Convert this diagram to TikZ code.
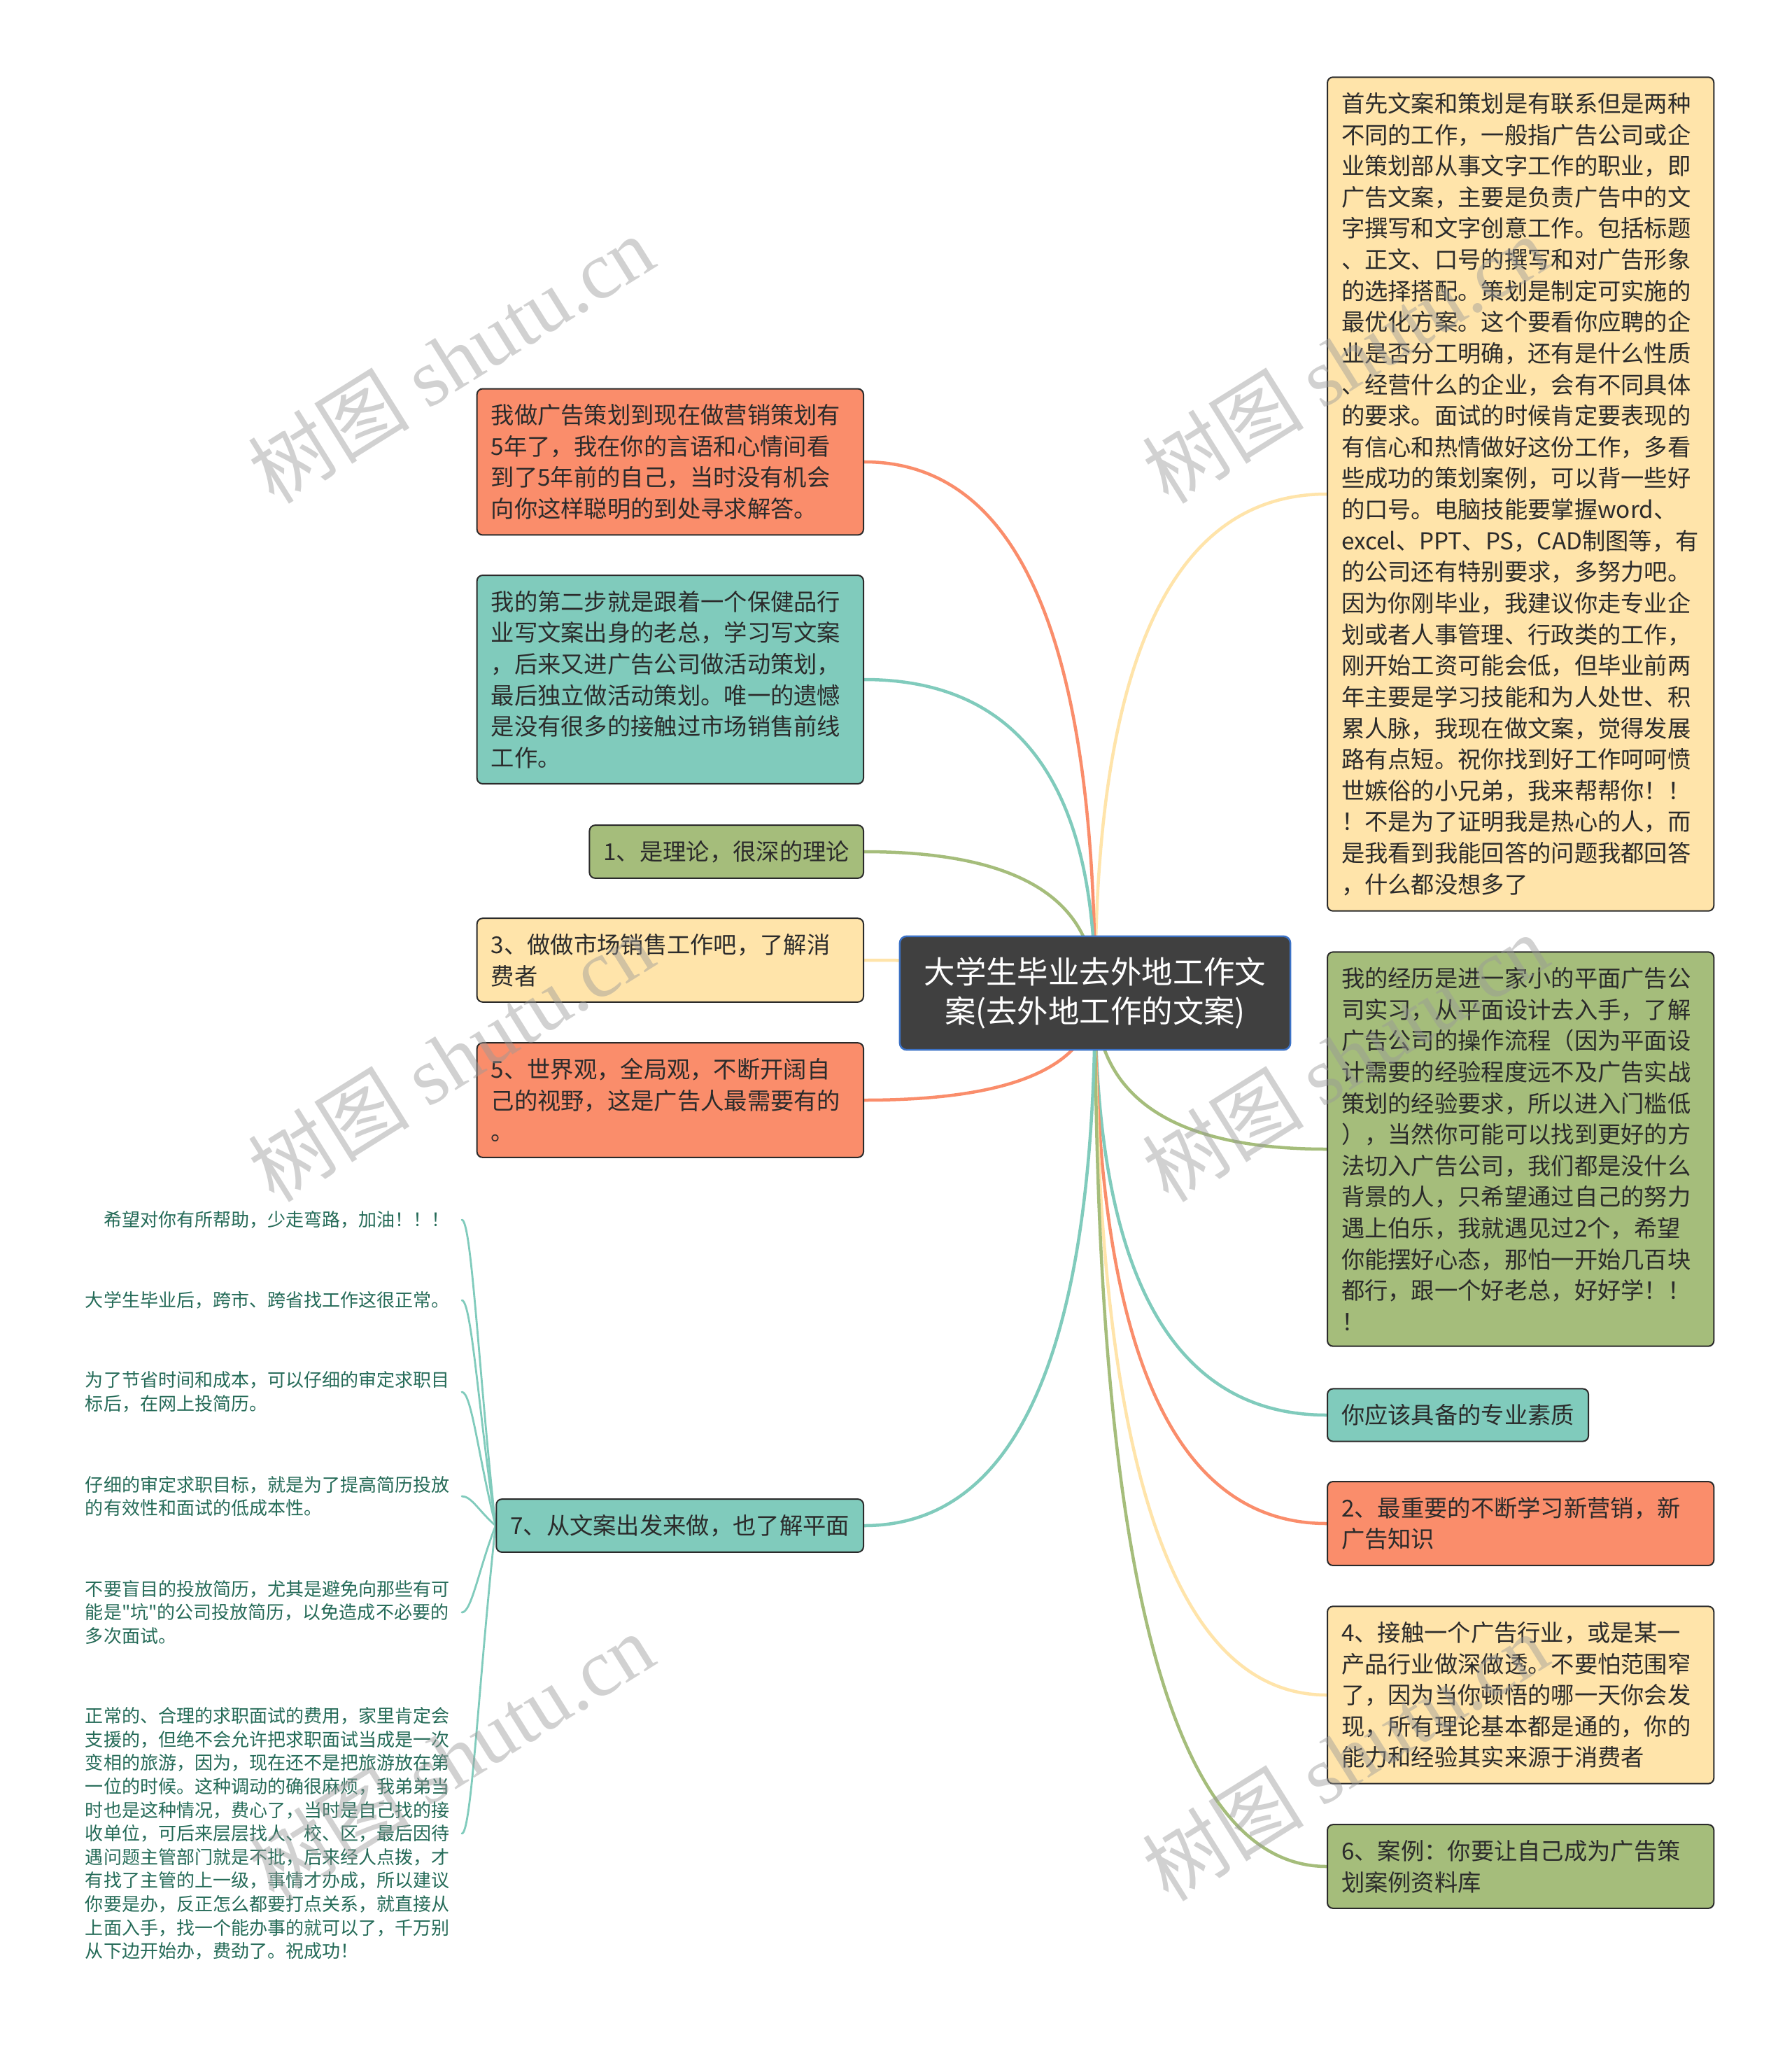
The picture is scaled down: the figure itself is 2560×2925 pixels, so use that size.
\documentclass[tikz,border=0pt]{standalone}
\usepackage{fontspec}
\setmainfont{Noto Sans CJK SC}[Ligatures=TeXOff]
\newfontfamily\wmlatin{Liberation Serif}
\usetikzlibrary{calc,backgrounds}
\definecolor{mmorange}{HTML}{FA8D6B}
\definecolor{mmteal}{HTML}{80CBBC}
\definecolor{mmgreen}{HTML}{A5BD7B}
\definecolor{mmyellow}{HTML}{FFE4AA}
\definecolor{mmroot}{HTML}{404040}
\definecolor{mmblue}{HTML}{3C72C6}
\definecolor{mmtext}{HTML}{2B2B2B}
\definecolor{mmleaf}{HTML}{256B58}
\newcommand{\boxfont}{\fontsize{9.47pt}{12.69pt}\selectfont}
\newcommand{\rootfont}{\fontsize{12.63pt}{15.93pt}\selectfont}
\newcommand{\leaffont}{\fontsize{7.4pt}{9.56pt}\selectfont}
\newcommand{\wmfont}{\fontsize{33pt}{38pt}\selectfont}

\begin{document}
\begin{tikzpicture}[
    x=0.01cm, y=-0.01cm,
    topic/.style={draw=mmtext, line width=0.02cm, rounded corners=0.08cm, fill=#1, text=mmtext, font=\boxfont, align=left, inner xsep=0.2cm, inner ysep=0.22cm},
    wide/.style={text width=5.12cm},
    root/.style={draw=mmblue, line width=0.025cm, rounded corners=0.1cm, fill=mmroot, text=white, font=\rootfont, align=center, minimum width=5.58cm, inner xsep=0.3cm, inner ysep=0.3cm},
    leaf/.style={text=mmleaf, font=\leaffont, align=left, text width=5.25cm, inner xsep=0.12cm, inner ysep=0.05cm, anchor=east},
    branch/.style={draw=#1, line width=0.045cm, line cap=round, to path={.. controls ($(\tikztostart)!0.667!(\tikztostart|-\tikztotarget)$) and ($(\tikztotarget)!0.667!(\tikztostart|-\tikztotarget)$) .. (\tikztotarget)}},
    twig/.style={draw=mmteal, line width=0.028cm, line cap=round, to path={.. controls ($(\tikztostart)!0.5!(\tikztotarget)$) and ($(\tikztotarget)+(14,0)$) .. (\tikztotarget)}},
    wmark/.style={text=black!40, text opacity=0.45, rotate=32, font=\wmfont},
]
\useasboundingbox (0,0) rectangle (2560,2925);

% root
\node[root] (root) at (1565,1419) {大学生毕业去外地工作文\\案(去外地工作的文案)};

% right side
\node[topic=mmyellow, wide, anchor=west] (r1) at (1896,706) {首先文案和策划是有联系但是两种\\不同的工作，一般指广告公司或企\\业策划部从事文字工作的职业，即\\广告文案，主要是负责广告中的文\\字撰写和文字创意工作。包括标题\\、正文、口号的撰写和对广告形象\\的选择搭配。策划是制定可实施的\\最优化方案。这个要看你应聘的企\\业是否分工明确，还有是什么性质\\、经营什么的企业，会有不同具体\\的要求。面试的时候肯定要表现的\\有信心和热情做好这份工作，多看\\些成功的策划案例，可以背一些好\\的口号。电脑技能要掌握word、\\excel、PPT、PS，CAD制图等，有\\的公司还有特别要求，多努力吧。\\因为你刚毕业，我建议你走专业企\\划或者人事管理、行政类的工作，\\刚开始工资可能会低，但毕业前两\\年主要是学习技能和为人处世、积\\累人脉，我现在做文案，觉得发展\\路有点短。祝你找到好工作呵呵愤\\世嫉俗的小兄弟，我来帮帮你！！\\！不是为了证明我是热心的人，而\\是我看到我能回答的问题我都回答\\，什么都没想多了};
\node[topic=mmgreen, wide, anchor=west] (r2) at (1896,1642) {我的经历是进一家小的平面广告公\\司实习，从平面设计去入手，了解\\广告公司的操作流程（因为平面设\\计需要的经验程度远不及广告实战\\策划的经验要求，所以进入门槛低\\），当然你可能可以找到更好的方\\法切入广告公司，我们都是没什么\\背景的人，只希望通过自己的努力\\遇上伯乐，我就遇见过2个，希望\\你能摆好心态，那怕一开始几百块\\都行，跟一个好老总，好好学！！\\！};
\node[topic=mmteal, anchor=west] (r3) at (1896,2022) {你应该具备的专业素质};
\node[topic=mmorange, wide, anchor=west] (r4) at (1896,2177) {2、最重要的不断学习新营销，新\\广告知识};
\node[topic=mmyellow, wide, anchor=west] (r5) at (1896,2422) {4、接触一个广告行业，或是某一\\产品行业做深做透。不要怕范围窄\\了，因为当你顿悟的哪一天你会发\\现，所有理论基本都是通的，你的\\能力和经验其实来源于消费者};
\node[topic=mmgreen, wide, anchor=west] (r6) at (1896,2667) {6、案例：你要让自己成为广告策\\划案例资料库};

% left side
\node[topic=mmorange, wide, anchor=east] (l1) at (1235,660) {我做广告策划到现在做营销策划有\\5年了，我在你的言语和心情间看\\到了5年前的自己，当时没有机会\\向你这样聪明的到处寻求解答。};
\node[topic=mmteal, wide, anchor=east] (l2) at (1235,971) {我的第二步就是跟着一个保健品行\\业写文案出身的老总，学习写文案\\，后来又进广告公司做活动策划，\\最后独立做活动策划。唯一的遗憾\\是没有很多的接触过市场销售前线\\工作。};
\node[topic=mmgreen, anchor=east] (l3) at (1235,1217) {1、是理论，很深的理论};
\node[topic=mmyellow, wide, anchor=east] (l4) at (1235,1372) {3、做做市场销售工作吧，了解消\\费者};
\node[topic=mmorange, wide, anchor=east] (l5) at (1235,1572) {5、世界观，全局观，不断开阔自\\己的视野，这是广告人最需要有的\\。};
\node[topic=mmteal, anchor=east] (l6) at (1235,2180) {7、从文案出发来做，也了解平面};

% leaves of 7
\node[leaf] (leaf1) at (660,1743) {\hspace*{1em}希望对你有所帮助，少走弯路，加油！！！};
\node[leaf] (leaf2) at (660,1858) {大学生毕业后，跨市、跨省找工作这很正常。};
\node[leaf] (leaf3) at (660,1989) {为了节省时间和成本，可以仔细的审定求职目\\标后，在网上投简历。};
\node[leaf] (leaf4) at (660,2138) {仔细的审定求职目标，就是为了提高简历投放\\的有效性和面试的低成本性。};
\node[leaf] (leaf5) at (660,2304) {不要盲目的投放简历，尤其是避免向那些有可\\能是"坑"的公司投放简历，以免造成不必要的\\多次面试。};
\node[leaf] (leaf6) at (660,2620) {正常的、合理的求职面试的费用，家里肯定会\\支援的，但绝不会允许把求职面试当成是一次\\变相的旅游，因为，现在还不是把旅游放在第\\一位的时候。这种调动的确很麻烦，我弟弟当\\时也是这种情况，费心了，当时是自己找的接\\收单位，可后来层层找人、校、区，最后因待\\遇问题主管部门就是不批，后来经人点拨，才\\有找了主管的上一级，事情才办成，所以建议\\你要是办，反正怎么都要打点关系，就直接从\\上面入手，找一个能办事的就可以了，千万别\\从下边开始办，费劲了。祝成功！};

\begin{scope}[on background layer]
\fill[white] (0,0) rectangle (2560,2925);
\draw[branch=mmyellow] (root.center) to (r1.west);
\draw[branch=mmgreen] (root.center) to (r2.west);
\draw[branch=mmteal] (root.center) to (r3.west);
\draw[branch=mmorange] (root.center) to (r4.west);
\draw[branch=mmyellow] (root.center) to (r5.west);
\draw[branch=mmgreen] (root.center) to (r6.west);
\draw[branch=mmorange] (root.center) to (l1.east);
\draw[branch=mmteal] (root.center) to (l2.east);
\draw[branch=mmgreen] (root.center) to (l3.east);
\draw[branch=mmyellow] (root.center) to (l4.east);
\draw[branch=mmorange] (root.center) to (l5.east);
\draw[branch=mmteal] (root.center) to (l6.east);
\draw[twig] (l6.west) to (leaf1.east);
\draw[twig] (l6.west) to (leaf2.east);
\draw[twig] (l6.west) to (leaf3.east);
\draw[twig] (l6.west) to (leaf4.east);
\draw[twig] (l6.west) to (leaf5.east);
\draw[twig] (l6.west) to (leaf6.east);
\end{scope}

% watermark
\foreach \wx in {644,1922}
  \foreach \wy in {513,1511,2510}
    \node[wmark] (wm-\wx-\wy) at (\wx,\wy) {树图 {\wmlatin shutu.cn}};

\end{tikzpicture}
\end{document}
